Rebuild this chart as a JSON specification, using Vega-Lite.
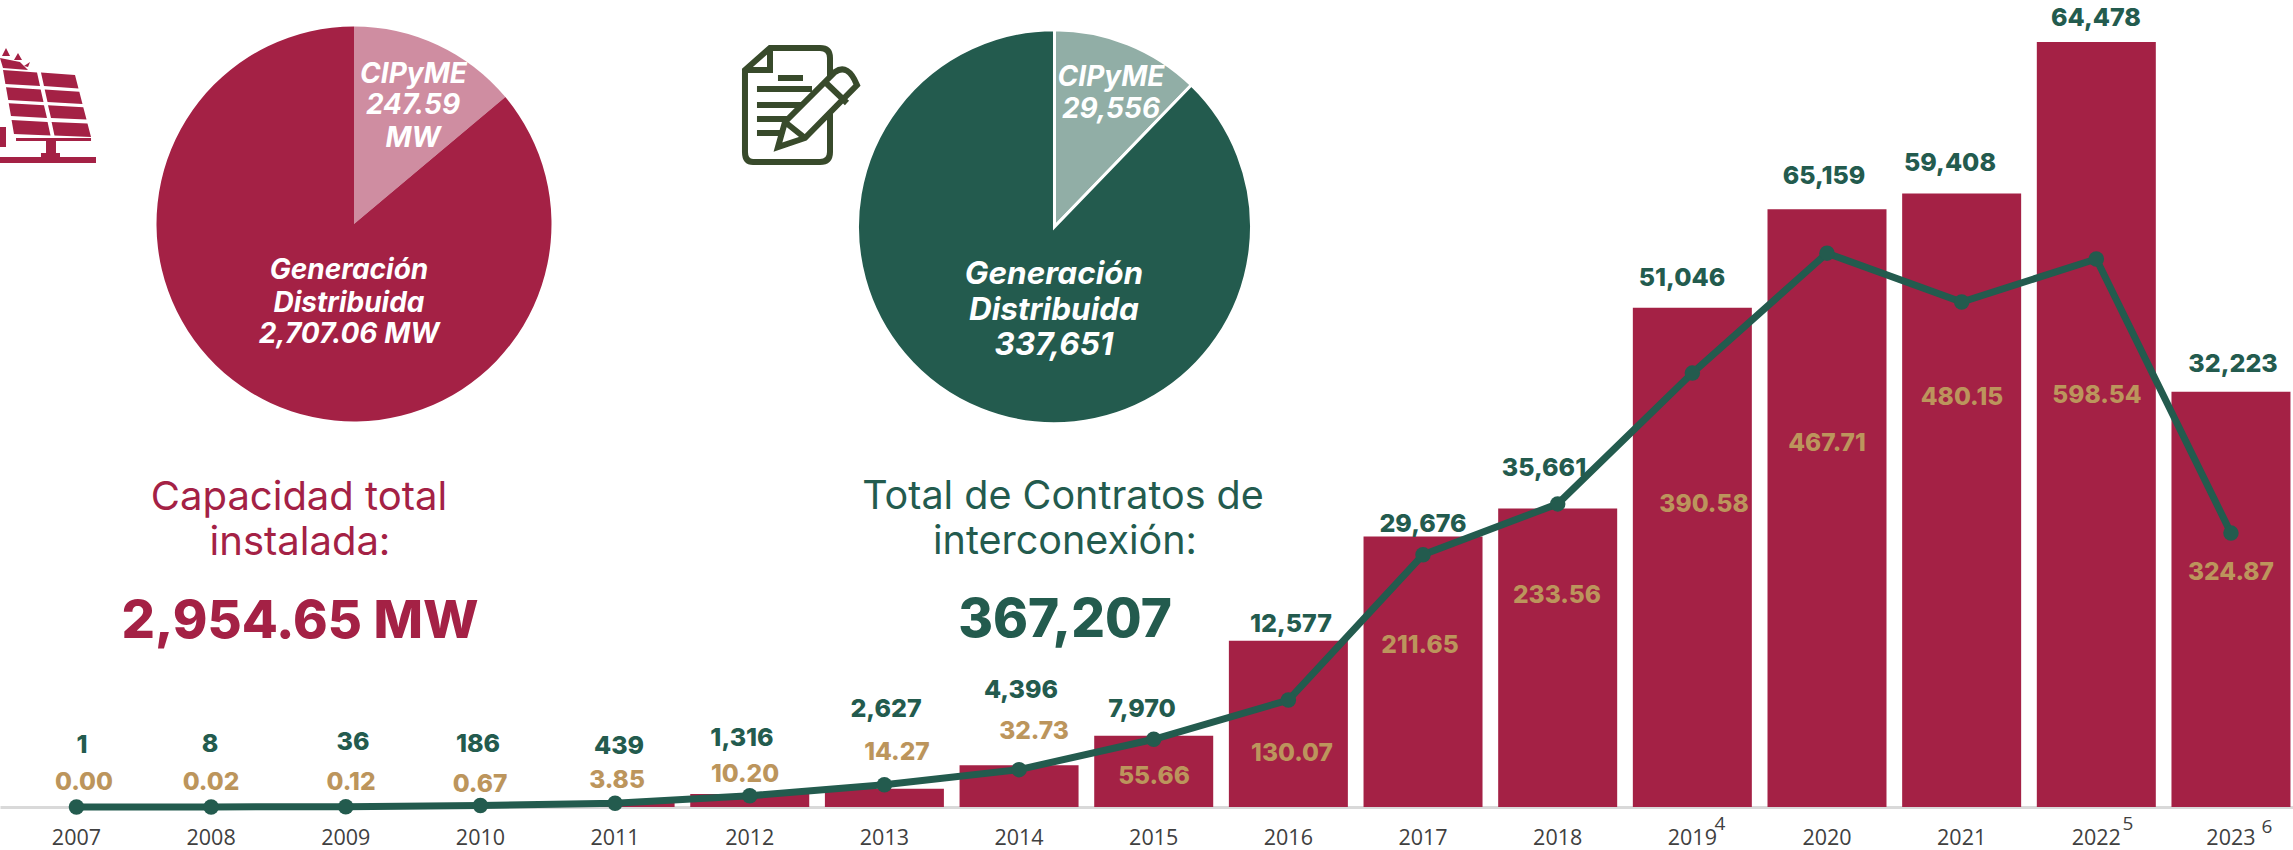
{"$schema":"https://vega.github.io/schema/vega-lite/v6.json","width":2293,"height":850,"autosize":{"type":"none"},"padding":0,"background":"#ffffff","config":{"view":{"stroke":null}},
"datasets":{"anual":[{"anio":2007,"contratos":1,"capacidad":0.00},{"anio":2008,"contratos":8,"capacidad":0.02},{"anio":2009,"contratos":36,"capacidad":0.12},{"anio":2010,"contratos":186,"capacidad":0.67},{"anio":2011,"contratos":439,"capacidad":3.85},{"anio":2012,"contratos":1316,"capacidad":10.20},{"anio":2013,"contratos":2627,"capacidad":14.27},{"anio":2014,"contratos":4396,"capacidad":32.73},{"anio":2015,"contratos":7970,"capacidad":55.66},{"anio":2016,"contratos":12577,"capacidad":130.07},{"anio":2017,"contratos":29676,"capacidad":211.65},{"anio":2018,"contratos":35661,"capacidad":233.56},{"anio":2019,"contratos":51046,"capacidad":390.58},{"anio":2020,"contratos":65159,"capacidad":467.71},{"anio":2021,"contratos":59408,"capacidad":480.15},{"anio":2022,"contratos":64478,"capacidad":598.54},{"anio":2023,"contratos":32223,"capacidad":324.87}],
"pies":[{"grafica":"capacidad","segmento":"CIPyME","valor":247.59},{"grafica":"capacidad","segmento":"Generación Distribuida","valor":2707.06},{"grafica":"contratos","segmento":"CIPyME","valor":29556},{"grafica":"contratos","segmento":"Generación Distribuida","valor":337651}],
"iconos":[{"icono":"solar"},{"icono":"documento"}],
"notas":[{"nota":4},{"nota":5},{"nota":6}],
"textos":[{"id":1,"texto":"Capacidad total","g":"tc"},{"id":2,"texto":"instalada:","g":"tc"},{"id":3,"texto":"2,954.65 MW","g":"bc"},{"id":4,"texto":"Total de Contratos de","g":"tv"},{"id":5,"texto":"interconexión:","g":"tv"},{"id":6,"texto":"367,207","g":"bv"},{"id":7,"texto":"CIPyME","g":"p1"},{"id":8,"texto":"247.59","g":"p1"},{"id":9,"texto":"MW","g":"p1"},{"id":10,"texto":"Generación","g":"p1"},{"id":11,"texto":"Distribuida","g":"p1"},{"id":12,"texto":"2,707.06 MW","g":"p1"},{"id":13,"texto":"CIPyME","g":"p1"},{"id":14,"texto":"29,556","g":"p1"},{"id":15,"texto":"Generación","g":"p2"},{"id":16,"texto":"Distribuida","g":"p2"},{"id":17,"texto":"337,651","g":"p2"}]},
"resolve":{"scale":{"x":"independent","y":"independent","theta":"independent","color":"independent"}},
"layer":[
{"data":{"name":"anual"},"resolve":{"scale":{"y":"independent"}},"encoding":{"x":{"field":"anio","type":"ordinal","title":null,"scale":{"type":"band","paddingInner":0.1163,"paddingOuter":0.0724,"align":0.87},"axis":{"orient":"bottom","offset":-43,"domain":true,"domainColor":"#d9d9d9","domainWidth":3,"ticks":false,"labelAngle":0,"labelFont":"Open Sans","labelFontSize":21.5,"labelColor":"#404040","labelPadding":31,"labelBaseline":"middle","grid":false}}},
"layer":[
{"mark":{"type":"bar","color":"#A42145"},"encoding":{"y":{"field":"capacidad","type":"quantitative","axis":null,"scale":{"domain":[0,631.5],"range":[807,0],"nice":false,"zero":false}}}},
{"layer":[{"mark":{"type":"line","color":"#235B4E","strokeWidth":7}},{"mark":{"type":"point","filled":true,"color":"#235B4E","opacity":1,"size":240}}],"encoding":{"y":{"field":"contratos","type":"quantitative","axis":null,"scale":{"domain":[0,94941],"range":[807,0],"nice":false,"zero":false}}}}
]},
{"data":{"name":"pies"},"transform":[{"filter":"datum.grafica==='capacidad'"}],"mark":{"type":"arc","radius":197.5},"encoding":{"x":{"field":"grafica","type":"nominal","axis":null,"scale":{"type":"point","domain":["capacidad","contratos"],"range":[354,1054.5],"padding":0}},"y":{"field":"grafica","type":"nominal","axis":null,"scale":{"type":"point","domain":["capacidad","contratos"],"range":[224,226.7],"padding":0}},"theta":{"field":"valor","type":"quantitative","scale":{"domain":[0,247.59,2954.65],"range":[0,0.873,6.2832],"zero":false,"nice":false}},"order":{"field":"segmento","sort":"ascending"},"color":{"field":"segmento","type":"nominal","legend":null,"scale":{"domain":["CIPyME","Generación Distribuida"],"range":["#CF8DA1","#A42145"]}}}},
{"data":{"name":"pies"},"transform":[{"filter":"datum.grafica==='contratos'"}],"mark":{"type":"arc","radius":197,"stroke":"#ffffff","strokeWidth":3},"encoding":{"x":{"field":"grafica","type":"nominal","axis":null,"scale":{"type":"point","domain":["capacidad","contratos"],"range":[354,1054.5],"padding":0}},"y":{"field":"grafica","type":"nominal","axis":null,"scale":{"type":"point","domain":["capacidad","contratos"],"range":[224,226.7],"padding":0}},"theta":{"field":"valor","type":"quantitative","scale":{"domain":[0,29556,367207],"range":[0,0.768,6.2832],"zero":false,"nice":false}},"order":{"field":"segmento","sort":"ascending"},"color":{"field":"segmento","type":"nominal","legend":null,"scale":{"domain":["CIPyME","Generación Distribuida"],"range":["#91AEA6","#235B4E"]}}}},
{"data":{"name":"iconos"},"transform":[{"filter":"datum.icono==='solar'"}],"mark":{"type":"point","filled":true,"opacity":1,"color":"#A42145","size":14400,"strokeWidth":0,"shape":"M-.75,-.583L-.183,-.542L-.133,-.317L-.71,-.35ZM-.117,-.542L.45,-.5L.508,-.273L-.067,-.317ZM-.7,-.295L-.122,-.258L-.075,-.05L-.663,-.083ZM-.055,-.258L.522,-.222L.575,-.017L-.008,-.05ZM-.655,-.028L-.067,.005L-.017,.217L-.617,.183ZM0,.005L.588,.037L.642,.243L.05,.217ZM-.607,.25L-.007,.283L.042,.508L-.567,.483ZM.06,.283L.658,.307L.717,.533L.108,.508ZM-.533,.55L.717,.55L.717,.6L-.533,.6ZM-.033,.6L.133,.6L.133,.8L-.033,.8ZM-.117,.8L.2,.8L.2,.867L-.117,.867ZM-.8,.867L.8,.867L.8,.967L-.8,.967ZM-.8,.367L-.7,.367L-.7,.7L-.8,.7ZM-.8,-.783L-.467,-.717L-.333,-.583L-.75,-.617ZM-.7,-.95L-.633,-.817L-.767,-.817ZM-.5,-.867L-.433,-.75L-.567,-.75ZM-.3,-.717L-.333,-.633L-.4,-.65Z"},"encoding":{"x":{"field":"icono","type":"nominal","axis":null,"scale":{"type":"point","domain":["solar","documento"],"range":[48,800],"padding":0}},"y":{"field":"icono","type":"nominal","axis":null,"scale":{"type":"point","domain":["solar","documento"],"range":[105,105],"padding":0}}}},
{"data":{"name":"iconos"},"transform":[{"filter":"datum.icono==='documento'"}],"mark":{"type":"point","filled":false,"opacity":1,"color":"#384A2B","size":14400,"strokeWidth":6,"shape":"M-.5,-.95L.333,-.95Q.5,-.95 .5,-.783L.5,.783Q.5,.95 .333,.95L-.783,.95Q-.917,.95 -.917,.783L-.917,-.583ZM-.5,-.95L-.5,-.583L-.917,-.583M-.717,-.267L.2,-.267M-.717,0L.05,0M-.717,.233L-.08,.233M-.717,.467L-.25,.467M-.367,-.45L.05,-.45"},"encoding":{"x":{"field":"icono","type":"nominal","axis":null,"scale":{"type":"point","domain":["solar","documento"],"range":[48,800],"padding":0}},"y":{"field":"icono","type":"nominal","axis":null,"scale":{"type":"point","domain":["solar","documento"],"range":[105,105],"padding":0}}}},
{"data":{"name":"iconos"},"transform":[{"filter":"datum.icono==='documento'"}],"mark":{"type":"point","filled":true,"opacity":1,"fill":"#ffffff","stroke":"#384A2B","size":14400,"strokeWidth":6,"shape":"M-.367,.7L-.25,.283L.583,-.55Q.8,-.7 .95,-.333L.083,.55ZM.417,-.383L.783,-.033M-.25,.283L.083,.55"},"encoding":{"x":{"field":"icono","type":"nominal","axis":null,"scale":{"type":"point","domain":["solar","documento"],"range":[48,800],"padding":0}},"y":{"field":"icono","type":"nominal","axis":null,"scale":{"type":"point","domain":["solar","documento"],"range":[105,105],"padding":0}}}},
{"data":{"name":"anual"},"mark":{"type":"text","font":"Inter","fontWeight":800,"fontSize":25,"dy":1,"color":"#235B4E","baseline":"middle"},"encoding":{"text":{"field":"contratos","type":"quantitative","format":",d"},"x":{"field":"anio","type":"quantitative","axis":null,"scale":{"zero":false,"nice":false,"domain":[2007,2008,2009,2010,2011,2012,2013,2014,2015,2016,2017,2018,2019,2020,2021,2022,2023],"range":[82,210,353,478,619,742,886,1021,1142,1291,1423,1544,1682,1824,1950,2096,2233]}},"y":{"field":"anio","type":"quantitative","axis":null,"scale":{"zero":false,"nice":false,"domain":[2007,2008,2009,2010,2011,2012,2013,2014,2015,2016,2017,2018,2019,2020,2021,2022,2023],"range":[744,743,741,743,745,737,708,689,708,623,523,467,277,175,162,17,363]}}}},
{"data":{"name":"anual"},"mark":{"type":"text","font":"Inter","fontWeight":800,"fontSize":24.5,"dy":1.5,"color":"#BC955C","baseline":"middle"},"encoding":{"text":{"field":"capacidad","type":"quantitative","format":".2f"},"x":{"field":"anio","type":"quantitative","axis":null,"scale":{"zero":false,"nice":false,"domain":[2007,2008,2009,2010,2011,2012,2013,2014,2015,2016,2017,2018,2019,2020,2021,2022,2023],"range":[84,211,351,480,617,745,897,1034,1154,1292,1420,1557,1704,1827,1962,2097,2231]}},"y":{"field":"anio","type":"quantitative","axis":null,"scale":{"zero":false,"nice":false,"domain":[2007,2008,2009,2010,2011,2012,2013,2014,2015,2016,2017,2018,2019,2020,2021,2022,2023],"range":[781,781,781,783,779,773,751,730,775,752,644,594,503,442,396,394,571]}}}},
{"data":{"name":"notas"},"mark":{"type":"text","font":"Open Sans","fontSize":19,"color":"#404040","baseline":"middle"},"encoding":{"text":{"field":"nota","type":"quantitative"},"x":{"field":"nota","type":"quantitative","axis":null,"scale":{"zero":false,"nice":false,"domain":[4,5,6],"range":[1720,2128,2267]}},"y":{"field":"nota","type":"quantitative","axis":null,"scale":{"zero":false,"nice":false,"domain":[4,5,6],"range":[824,824,827]}}}},
{"data":{"name":"textos"},"transform":[{"filter":"datum.g==='tc'"}],"mark":{"type":"text","font":"Inter","fontSize":40,"dy":1,"color":"#A42145","baseline":"middle"},"encoding":{"text":{"field":"texto"},"x":{"field":"id","type":"quantitative","axis":null,"scale":{"zero":false,"nice":false,"domain":[1,2],"range":[299,300]}},"y":{"field":"id","type":"quantitative","axis":null,"scale":{"zero":false,"nice":false,"domain":[1,2],"range":[497,542]}}}},
{"data":{"name":"textos"},"transform":[{"filter":"datum.g==='tv'"}],"mark":{"type":"text","font":"Inter","fontSize":39.5,"dy":1,"color":"#235B4E","baseline":"middle"},"encoding":{"text":{"field":"texto"},"x":{"field":"id","type":"quantitative","axis":null,"scale":{"zero":false,"nice":false,"domain":[4,5],"range":[1063,1065]}},"y":{"field":"id","type":"quantitative","axis":null,"scale":{"zero":false,"nice":false,"domain":[4,5],"range":[496,541]}}}},
{"data":{"name":"textos"},"transform":[{"filter":"datum.g==='bc'"}],"mark":{"type":"text","font":"Inter","fontWeight":800,"fontSize":52.5,"dy":2,"color":"#A42145","baseline":"middle"},"encoding":{"text":{"field":"texto"},"x":{"field":"id","type":"quantitative","axis":null,"scale":{"zero":false,"nice":false,"domain":[3,6],"range":[300,1065]}},"y":{"field":"id","type":"quantitative","axis":null,"scale":{"zero":false,"nice":false,"domain":[3,6],"range":[620,619]}}}},
{"data":{"name":"textos"},"transform":[{"filter":"datum.g==='bv'"}],"mark":{"type":"text","font":"Inter","fontWeight":800,"fontSize":53,"dy":2,"color":"#235B4E","baseline":"middle"},"encoding":{"text":{"field":"texto"},"x":{"field":"id","type":"quantitative","axis":null,"scale":{"zero":false,"nice":false,"domain":[3,6],"range":[300,1065]}},"y":{"field":"id","type":"quantitative","axis":null,"scale":{"zero":false,"nice":false,"domain":[3,6],"range":[620,619]}}}},
{"data":{"name":"textos"},"transform":[{"filter":"datum.g==='p1'"}],"mark":{"type":"text","font":"Inter","fontWeight":"bold","fontStyle":"italic","fontSize":28,"dy":1.5,"color":"#ffffff","baseline":"middle"},"encoding":{"text":{"field":"texto"},"x":{"field":"id","type":"quantitative","axis":null,"scale":{"zero":false,"nice":false,"domain":[7,8,9,10,11,12,13,14],"range":[413.5,413,413,349,349,349,1111,1111]}},"y":{"field":"id","type":"quantitative","axis":null,"scale":{"zero":false,"nice":false,"domain":[7,8,9,10,11,12,13,14],"range":[73,104,137,269,302,333,76,108]}}}},
{"data":{"name":"textos"},"transform":[{"filter":"datum.g==='p2'"}],"mark":{"type":"text","font":"Inter","fontWeight":"bold","fontStyle":"italic","fontSize":31.5,"dy":2,"color":"#ffffff","baseline":"middle"},"encoding":{"text":{"field":"texto"},"x":{"field":"id","type":"quantitative","axis":null,"scale":{"zero":false,"nice":false,"domain":[15,16,17],"range":[1054,1054,1054]}},"y":{"field":"id","type":"quantitative","axis":null,"scale":{"zero":false,"nice":false,"domain":[15,16,17],"range":[273,309,344]}}}}
]}
